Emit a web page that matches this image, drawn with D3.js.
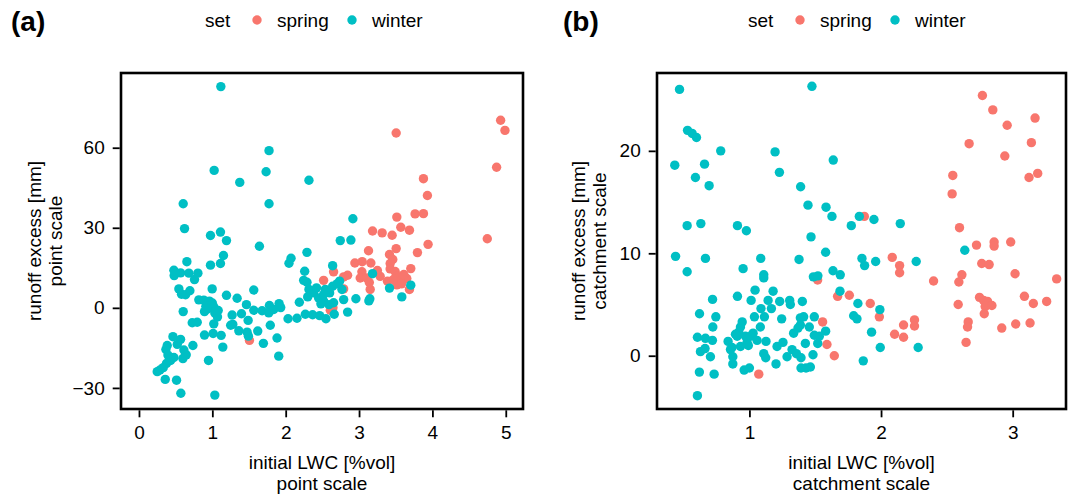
<!DOCTYPE html>
<html><head><meta charset="utf-8">
<script src="https://cdn.jsdelivr.net/npm/d3@7"></script>
<style>
body{margin:0;background:#fff;}
svg text{font-family:"Liberation Sans",Arial,sans-serif;}
</style></head>
<body><svg id="c" width="1070" height="497"></svg>
<script>
// ---------- DATA ----------
const seriesNames = ["spring", "winter"];
const seriesColors = ["#F8766D", "#00BFC4"];
const panelLabels = ["(a)", "(b)"];
const xTicksA = [0, 1, 2, 3, 4, 5];
const yTicksA = [-30, 0, 30, 60];
const xTicksB = [1, 2, 3];
const yTicksB = [0, 10, 20];
const xTitleA = ["initial LWC [%vol]", "point scale"];
const yTitleA = ["runoff excess [mm]", "point scale"];
const xTitleB = ["initial LWC [%vol]", "catchment scale"];
const yTitleB = ["runoff excess [mm]", "catchment scale"];

// panel (a) point scale
const springA = [
[3.506,65.5],[4.93,70.3],[4.989,66.5],[4.875,52.7],[4.748,25.9],[3.878,48.4],[3.932,42.1],
[3.515,34.0],[3.764,35.2],[3.878,35.3],[3.569,30.2],[3.687,29.1],[3.184,28.8],[3.315,28.1],
[3.451,27.2],[3.941,23.8],[3.506,22.2],[3.129,21.4],[3.796,20.7],[3.415,20.0],[3.46,18.1],
[2.943,16.8],[3.043,17.3],[3.161,16.8],[3.424,16.6],[3.705,14.7],[3.424,14.6],[3.492,13.6],
[2.844,12.2],[2.79,11.6],[2.653,13.5],[3.039,13.5],[3.016,11.2],[3.107,11.2],[3.288,11.8],
[3.388,10.0],[3.524,11.8],[3.56,10.0],[3.651,11.0],[3.515,8.6],[3.687,6.9],[3.152,6.9],
[2.517,10.3],[2.79,7.1],[2.644,0.0],[2.608,-0.9],[1.506,-12.2],[3.61,12.5],[3.47,10.6],
[3.25,14.0],[3.58,9.0],[3.14,9.5]
];
const winterA = [
[1.116,82.9],[1.773,58.9],[1.025,51.5],[1.733,51.0],[1.374,47.0],[2.317,47.8],[0.603,39.0],
[1.773,39.0],[0.621,29.7],[2.916,33.4],[0.975,27.1],[1.111,28.4],[1.193,25.2],[1.642,23.1],
[2.29,20.8],[2.744,25.2],[2.889,25.4],[1.152,19.6],[1.111,16.6],[0.975,16.0],[0.653,17.3],
[2.073,18.6],[2.045,16.7],[2.259,13.7],[2.64,15.8],[0.476,14.1],[0.48,12.1],[0.567,13.1],
[0.68,13.0],[0.757,10.6],[0.803,13.0],[0.544,7.1],[0.58,5.1],[0.635,4.9],[0.694,6.4],
[0.998,7.1],[1.565,6.7],[1.193,4.7],[1.338,3.6],[0.816,3.0],[0.884,2.9],[0.961,2.5],
[0.912,0.6],[1.02,0.4],[1.465,1.2],[0.603,-1.4],[0.893,-1.4],[1.034,-1.9],[1.07,-3.4],
[1.565,-0.9],[1.678,-1.1],[1.778,0.9],[1.837,-0.6],[1.91,1.6],[1.932,0.1],[1.769,-1.9],
[1.397,-2.2],[1.27,-2.7],[0.726,-5.6],[0.794,-5.4],[1.02,-6.0],[1.279,-6.2],[1.488,-4.7],
[1.79,-6.5],[1.361,-8.6],[1.474,-9.1],[1.619,-8.7],[0.893,-10.2],[1.011,-9.6],[1.12,-10.3],
[1.492,-10.6],[1.882,-11.3],[1.696,-13.3],[1.143,-14.7],[0.463,-10.8],[0.567,-11.8],
[0.522,-13.7],[0.735,-14.1],[0.385,-14.1],[0.367,-15.6],[0.612,-15.8],[0.644,-17.6],
[0.599,-19.0],[0.476,-18.6],[0.395,-17.7],[0.431,-19.7],[0.376,-20.8],[0.331,-22.4],
[0.286,-23.3],[0.249,-23.9],[0.948,-19.7],[1.905,-18.1],[0.358,-26.8],[0.512,-27.1],
[0.571,-32.0],[1.034,-32.7],[2.032,-4.1],[2.154,-3.9],[2.268,-2.4],[2.367,-2.6],[2.463,-2.9],
[2.549,-4.1],[2.662,-2.4],[2.844,-1.6],[2.186,2.1],[2.245,10.3],[2.29,9.6],[2.317,6.9],
[2.381,5.6],[2.449,3.7],[2.517,2.5],[2.54,6.9],[2.599,5.6],[2.517,5.0],[2.64,8.1],[2.59,1.2],
[2.653,1.9],[2.735,10.0],[2.767,6.9],[2.79,3.1],[2.957,3.4],[3.147,3.4],[3.134,2.6],
[3.184,12.8],[3.415,7.4],[3.583,4.1],[3.705,8.5],[2.3,4.1],[2.42,7.5],[2.7,9.0],[2.48,1.5],
[1.0,1.8],[0.93,-0.5],[1.08,-1.0],[1.25,-6.5]
];

// panel (b) catchment scale
const springB = [
[2.770,25.4],[2.849,24.0],[2.958,22.5],[3.17,23.2],[2.669,20.7],[3.142,20.8],[2.94,19.5],
[3.124,17.4],[3.19,17.8],[2.545,17.6],[2.54,15.8],[2.596,12.5],[1.873,13.6],[2.725,10.8],
[2.859,11.1],[2.859,10.7],[2.985,11.1],[2.765,9.0],[2.821,8.9],[2.085,9.6],[2.141,8.8],
[2.141,8.1],[3.018,8.0],[2.399,7.3],[2.614,7.9],[2.591,7.2],[3.334,7.5],[1.518,7.4],
[1.67,5.8],[1.759,5.9],[1.918,5.1],[1.987,3.8],[2.586,5.0],[2.748,5.7],[2.779,5.4],
[2.809,5.3],[2.791,4.8],[2.842,4.9],[2.784,4.1],[3.089,5.8],[3.157,5.1],[3.258,5.3],
[2.254,3.5],[2.254,2.9],[2.171,3.0],[2.103,2.1],[2.171,1.8],[2.662,3.3],[2.657,2.8],
[2.646,1.3],[2.917,2.7],[3.023,3.1],[3.132,3.2],[1.556,3.3],[1.589,1.1],[1.645,0.0],
[1.071,-1.8]
];
const winterB = [
[0.469,26.0],[1.475,26.3],[0.530,22.0],[0.565,21.7],[0.598,21.3],[0.433,18.6],[0.782,20.0],
[0.590,17.4],[0.659,18.7],[0.694,16.6],[1.195,19.9],[1.228,17.9],[1.637,19.1],[1.389,16.5],
[1.445,14.7],[1.582,14.5],[1.627,13.6],[1.468,11.6],[1.774,12.7],[1.835,13.6],[1.946,13.3],
[2.146,12.9],[0.527,12.7],[0.631,12.9],[0.909,12.7],[0.977,12.2],[0.439,9.7],[0.666,9.5],
[0.527,8.2],[1.086,9.5],[1.377,9.4],[1.579,10.1],[0.952,8.5],[1.109,7.9],[1.109,7.6],
[1.486,7.7],[1.52,7.8],[1.635,8.3],[1.69,7.9],[1.688,6.3],[1.855,9.5],[1.875,8.8],
[1.959,9.2],[2.267,9.2],[2.636,10.3],[1.824,5.1],[1.991,4.5],[1.792,3.9],[1.817,3.6],
[1.928,2.3],[1.994,0.8],[2.282,0.8],[1.865,-0.5],[0.621,4.1],[0.72,5.5],[0.745,3.8],
[0.722,2.8],[0.605,1.8],[0.666,1.7],[0.719,1.5],[0.628,0.4],[0.663,0.7],[0.704,-0.1],
[0.62,-1.6],[0.732,-1.8],[0.605,-3.9],[0.909,5.8],[1.043,6.4],[1.013,5.4],[1.088,4.6],
[1.038,3.8],[1.114,3.8],[1.167,4.6],[1.142,5.4],[1.18,6.3],[1.23,5.3],[1.306,5.4],
[1.311,5.0],[1.402,5.3],[1.245,3.6],[1.387,3.7],[1.412,3.8],[1.493,3.8],[1.387,3.0],
[1.455,2.8],[1.369,2.7],[1.336,2.2],[1.579,2.4],[1.493,2.0],[1.531,1.9],[1.519,1.2],
[1.083,2.8],[0.945,3.3],[0.932,2.8],[0.919,2.3],[0.907,1.9],[0.894,2.1],[0.838,1.4],
[0.868,0.8],[0.874,-0.1],[0.874,-0.8],[0.97,1.9],[0.982,1.3],[1.008,1.9],[1.028,2.2],
[1.058,1.5],[1.126,1.4],[0.932,0.9],[0.992,1.0],[0.856,0.6],[1.109,0.2],[1.124,-0.2],
[1.21,0.9],[1.255,1.3],[1.286,-0.1],[1.324,0.6],[1.357,0.2],[1.392,-0.2],[1.425,1.2],
[1.483,0.1],[1.202,-0.8],[0.96,-1.4],[1.0,-1.2],[1.392,-1.2],[1.43,-1.2],[1.463,-1.1]
];

// ---------- DRAW ----------
const svg = d3.select("#c");
const FS = 19;

function panel(cfg) {
  const {box, xDom, yDom, xTicks, yTicks, spring, winter, label, xTitle, yTitle, legendX, labelX, yTitleX} = cfg;
  const x = d3.scaleLinear().domain(xDom).range([box.l, box.r]);
  const y = d3.scaleLinear().domain(yDom).range([box.b, box.t]);
  const g = svg.append("g");

  // points: spring first, then winter
  [spring, winter].forEach((pts, i) => {
    g.append("g").selectAll("circle").data(pts).join("circle")
      .attr("cx", d => x(d[0])).attr("cy", d => y(d[1])).attr("r", 4.7)
      .attr("fill", seriesColors[i]);
  });

  // border
  g.append("rect").attr("x", box.l).attr("y", box.t)
    .attr("width", box.r - box.l).attr("height", box.b - box.t)
    .attr("fill", "none").attr("stroke", "#000").attr("stroke-width", 2.6);

  const ax = g.append("g").attr("transform", `translate(0,${box.b + 1.3})`)
    .call(d3.axisBottom(x).tickValues(xTicks).tickSize(7).tickPadding(8).tickFormat(d3.format("d")));
  const ay = g.append("g").attr("transform", `translate(${box.l - 1.3},0)`)
    .call(d3.axisLeft(y).tickValues(yTicks).tickSize(7).tickPadding(8).tickFormat(d => d < 0 ? "\u2212" + Math.abs(d) : d));
  [ax, ay].forEach(a => {
    a.select(".domain").remove();
    a.selectAll(".tick line").attr("stroke", "#000").attr("stroke-width", 1.8);
    a.selectAll(".tick text").attr("fill", "#000").style("font-size", FS + "px")
      .style("font-family", '"Liberation Sans",Arial,sans-serif');
  });

  const cx = (box.l + box.r) / 2, cy = (box.t + box.b) / 2;
  xTitle.forEach((t, i) => {
    g.append("text").attr("x", cx).attr("y", 469 + i * 21).attr("text-anchor", "middle")
      .style("font-size", FS + "px").attr("fill", "#000").text(t);
  });
  yTitle.forEach((t, i) => {
    g.append("text").attr("transform", `translate(${yTitleX + i * 21},${cy}) rotate(-90)`)
      .attr("text-anchor", "middle").style("font-size", FS + "px").attr("fill", "#000").text(t);
  });

  // panel label
  g.append("text").attr("x", labelX).attr("y", 31).style("font-size", "28px")
    .style("font-weight", "bold").attr("fill", "#000").text(label);

  // legend
  const lg = g.append("g").attr("transform", `translate(${legendX},0)`);
  lg.append("text").attr("x", 0).attr("y", 27).style("font-size", FS + "px").attr("fill", "#000").text("set");
  const offs = [[52, 72], [147, 167]];
  seriesNames.forEach((n, i) => {
    lg.append("circle").attr("cx", offs[i][0]).attr("cy", 20).attr("r", 4.7).attr("fill", seriesColors[i]);
    lg.append("text").attr("x", offs[i][1]).attr("y", 27).style("font-size", FS + "px").attr("fill", "#000").text(n);
  });
}

panel({box: {l: 121, r: 523, t: 73, b: 409}, xDom: [-0.245, 5.235], yDom: [-37.9, 88.0],
  xTicks: xTicksA, yTicks: yTicksA, spring: springA, winter: winterA, label: panelLabels[0],
  xTitle: xTitleA, yTitle: yTitleA, legendX: 205, labelX: 11, yTitleX: 41});
panel({box: {l: 657, r: 1066, t: 73, b: 409}, xDom: [0.298, 3.405], yDom: [-5.2, 27.6],
  xTicks: xTicksB, yTicks: yTicksB, spring: springB, winter: winterB, label: panelLabels[1],
  xTitle: xTitleB, yTitle: yTitleB, legendX: 748, labelX: 563, yTitleX: 585});
</script></body></html>
